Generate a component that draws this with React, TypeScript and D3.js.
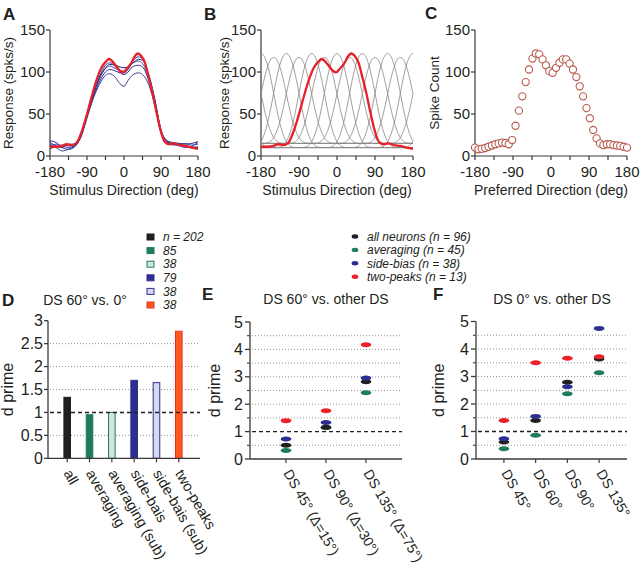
import React from "react";
import * as d3 from "d3";

// ---------------- data ----------------
// Panel A/B: red population response
const redDirs = [-180, -165, -150, -140, -127, -115, -103, -91, -79, -67, -55, -43, -37, -31, -22, -10, -2, 6, 18, 26, 34, 42, 51, 59, 69, 79, 90, 99, 110, 122, 135, 150, 165, 180];
const redResp = [11, 11, 12, 14, 13, 16, 29, 48, 70, 90, 105, 113, 115.5, 114, 109, 101.5, 99.5, 103.5, 111, 118.5, 122, 119, 111, 96, 76, 52, 29, 17, 14, 15, 13, 12, 10, 8.5];

// Panel A: blue individual responses
const blueDirs = [-180, -165, -150, -135, -120, -105, -90, -75, -60, -45, -35, -20, -10, 0, 10, 20, 35, 45, 60, 75, 90, 105, 120, 135, 150, 165, 180];
const blue1 = [14, 10, 6, 8, 12, 22, 45, 68, 85, 96, 98, 93, 86, 83, 90, 96, 99, 97, 85, 60, 28, 16, 14, 12, 10, 12, 16];
const blue2 = [18, 16, 10, 8, 11, 23, 47, 70, 88, 100, 103, 101, 99, 97, 100, 106, 108, 106, 90, 62, 27, 16, 15, 14, 12, 10, 11];
const blue3 = [12, 14, 12, 10, 13, 25, 49, 73, 92, 104, 107, 104, 102, 101, 104, 110, 113, 110, 94, 65, 30, 17, 13, 14, 15, 13, 14];
const blue4 = [9, 11, 13, 12, 12, 24, 48, 72, 92, 105, 109, 108, 106, 105, 106, 110, 115, 114, 96, 66, 30, 18, 16, 15, 14, 15, 17];
const blue5 = [16, 12, 10, 14, 14, 26, 50, 74, 94, 108, 111, 106, 100, 99, 103, 112, 118, 116, 97, 68, 31, 18, 14, 13, 12, 11, 10];
const blueSeries = [blue1, blue2, blue3, blue4, blue5];
const blueColors = ["#3b3f9a", "#2a2e8c", "#4a4fa8", "#23287f", "#3035a0"];

// Panel B: tuning curves (response vs. |offset| from preferred direction, 0..180 by 10)
const tuneHigh = [124, 118, 101, 75, 48, 28, 16, 11, 10, 10, 10, 10, 10, 10, 10, 10, 10, 10, 10];
const tuneLow = [119, 114, 98, 74, 50, 32, 21, 16, 15, 15, 15, 15, 15, 15, 15, 15, 15, 15, 15];
const prefsB = [-180, -150, -120, -90, -60, -30, 0, 30, 60, 90, 120, 150];

// Panel C: spike count vs preferred direction
const prefDirsC = [-180, -172, -164, -156, -148, -140, -132, -124, -116, -108, -100, -92, -84, -76, -68, -60, -52, -44, -36, -28, -20, -12, -4, 4, 12, 20, 28, 36, 44, 52, 60, 68, 76, 84, 92, 100, 108, 116, 124, 132, 140, 148, 156, 164, 172, 180];
const spikeCounts = [10, 8, 8.5, 9.5, 11, 12.5, 14, 15, 16, 15.5, 14, 19, 36, 54, 71, 88, 103, 116, 122, 121, 115, 108, 101, 99, 105, 111, 115, 115, 110, 103, 94, 83, 71, 57, 45, 31, 21, 15, 13, 14, 14, 13, 12.5, 12, 11, 10];

const topYTicks = [0, 50, 100, 150];
const topXTicks = [-180, -90, 0, 90, 180];
const topXMinor = [-135, -45, 45, 135];

// Panel D
const dCats = ["all", "averaging", "averaging (sub)", "side-bais", "side-bais (sub)", "two-peaks"];
const dVals = [1.33, 0.95, 1.0, 1.7, 1.65, 2.77];
const dFill = ["#231f20", "#1e7b5c", "#d3e4db", "#2c2e90", "#d8d9ee", "#ff5a1c"];
const dStroke = ["#231f20", "#1e7b5c", "#1e7b5c", "#2c2e90", "#2c2e90", "#ec2a2a"];
const dLegend = ["n = 202", "85", "38", "79", "38", "38"];
const dTicks = [0, 0.5, 1, 1.5, 2, 2.5, 3];

// Panels E & F
const seriesNames = ["all neurons (n = 96)", "averaging (n = 45)", "side-bias (n = 38)", "two-peaks (n = 13)"];
const seriesColors = ["#231f20", "#1e7b5c", "#2c2e90", "#ec2227"];
const eCats = ["DS 45° (Δ=15°)", "DS 90° (Δ=30°)", "DS 135° (Δ=75°)"];
const eAll = [0.5, 1.16, 2.82];
const eAvg = [0.31, 1.14, 2.42];
const eSide = [0.73, 1.33, 2.96];
const eTwo = [1.4, 1.76, 4.17];
const fCats = ["DS 45°", "DS 60°", "DS 90°", "DS 135°"];
const fAll = [0.62, 1.4, 2.79, 3.64];
const fAvg = [0.37, 0.86, 2.37, 3.14];
const fSide = [0.74, 1.55, 2.63, 4.75];
const fTwo = [1.4, 3.5, 3.66, 3.72];
const efTicks = [0, 1, 2, 3, 4, 5];
const efMinor = [0.5, 1.5, 2.5, 3.5, 4.5];
const efGrid = [0.5, 1.5, 2, 2.5, 3, 3.5, 4, 4.5];
const dGrid = [0.5, 1.5, 2, 2.5];

// ---------------- styles ----------------
const FONT = "'Liberation Sans', Arial, Helvetica, sans-serif";
const TXT = "#231f20";
const AX = "#3a3a3a";

const yTop = d3.scaleLinear().domain([0, 150]).range([156, 30]);
const xA = d3.scaleLinear().domain([-180, 180]).range([50, 198]);
const xB = d3.scaleLinear().domain([-180, 180]).range([261, 413]);
const xC = d3.scaleLinear().domain([-180, 180]).range([475, 627]);

function TopFrame({ x, xTitle, yTitle, yTitleX }: { x: d3.ScaleLinear<number, number>; xTitle: string; yTitle: string; yTitleX: number }) {
  const [x0, x1] = x.range();
  const y0 = yTop(0), y1 = yTop(150);
  return (
    <g>
      <line x1={x0} x2={x0} y1={y0} y2={y1} stroke={AX} strokeWidth={1.2} />
      <line x1={x0} x2={x1} y1={y0} y2={y0} stroke={AX} strokeWidth={1.2} />
      {topYTicks.map((t) => (
        <g key={"y" + t}>
          <line x1={x0 - 4} x2={x0} y1={yTop(t)} y2={yTop(t)} stroke={AX} strokeWidth={1.2} />
          <text x={x0 - 5} y={yTop(t)} dy="0.35em" textAnchor="end" fontSize={15} fill={TXT}>{t}</text>
        </g>
      ))}
      {topXTicks.concat(topXMinor).map((t) => (
        <line key={"x" + t} x1={x(t)} x2={x(t)} y1={y0} y2={y0 + 4} stroke={AX} strokeWidth={1.2} />
      ))}
      {topXTicks.map((t) => (
        <text key={"xl" + t} x={x(t)} y={177} textAnchor="middle" fontSize={15} fill={TXT}>{t}</text>
      ))}
      <text x={(x0 + x1) / 2} y={195} textAnchor="middle" fontSize={14} fill={TXT}>{xTitle}</text>
      <text transform={`translate(${yTitleX},${(y0 + y1) / 2}) rotate(-90)`} textAnchor="middle" fontSize={13.5} fill={TXT}>{yTitle}</text>
    </g>
  );
}

function pairs(xs: number[], ys: number[]): [number, number][] {
  return xs.map((d, i) => [d, ys[i]] as [number, number]);
}

function lineFor(x: d3.ScaleLinear<number, number>) {
  return d3.line<[number, number]>().x((d) => x(d[0])).y((d) => yTop(d[1])).curve(d3.curveMonotoneX);
}

// tuning curve shape from data (mirrored, smooth B-spline through the read nodes)
function tuneInterp(vals: number[]) {
  const mirrored = vals.slice(1).reverse().concat(vals);
  const f = d3.interpolateBasis(mirrored);
  const dom = d3.scaleLinear().domain([-180, 180]).range([0, 1]);
  return (off: number) => f(dom(off));
}

function DotPanel({ x, cats, series, yScale, axisX, axisEnd }: any) {
  const y0 = yScale(0);
  return (
    <g>
      {efGrid.map((g) => (
        <line key={"g" + g} x1={axisX + 2} x2={axisEnd} y1={yScale(g)} y2={yScale(g)} stroke="#8a8a8a" strokeWidth={0.9} strokeDasharray="1 2" />
      ))}
      <line x1={axisX + 2} x2={axisEnd} y1={yScale(1)} y2={yScale(1)} stroke={TXT} strokeWidth={1.4} strokeDasharray="4 3" />
      <line x1={axisX} x2={axisX} y1={y0} y2={yScale(5)} stroke={AX} strokeWidth={1.3} />
      <line x1={axisX} x2={axisEnd} y1={y0} y2={y0} stroke={AX} strokeWidth={1.3} />
      {efTicks.map((t) => (
        <g key={"t" + t}>
          <line x1={axisX - 5} x2={axisX} y1={yScale(t)} y2={yScale(t)} stroke={AX} strokeWidth={1.3} />
          <text x={axisX - 7} y={yScale(t)} dy="0.35em" textAnchor="end" fontSize={16} fill={TXT}>{t}</text>
        </g>
      ))}
      {efMinor.map((t) => (
        <line key={"m" + t} x1={axisX - 3} x2={axisX} y1={yScale(t)} y2={yScale(t)} stroke={AX} strokeWidth={1.1} />
      ))}
      {cats.map((c: string) => (
        <g key={c}>
          <line x1={x(c)} x2={x(c)} y1={y0} y2={y0 + 4} stroke={AX} strokeWidth={1.2} />
          <text transform={`translate(${x(c) - 3},${y0 + 14}) rotate(60)`} fontSize={14} fill={TXT}>{c}</text>
        </g>
      ))}
      {[1, 0, 2, 3].map((si) =>
        series[si].map((v: number, i: number) => (
          <ellipse key={si + "-" + i} cx={x(cats[i])} cy={yScale(v)} rx={5.3} ry={2.5} fill={seriesColors[si]} />
        ))
      )}
    </g>
  );
}

export default function App() {
  const lineA = lineFor(xA);
  const lineB = lineFor(xB);
  const interpHigh = tuneInterp(tuneHigh);
  const interpLow = tuneInterp(tuneLow);
  const sampleDirs = d3.range(-180, 181, 2);

  const yD = d3.scaleLinear().domain([0, 3]).range([458.3, 320.7]);
  const xD = d3.scaleBand<string>().domain(dCats).range([46, 200]).paddingInner(0.66).paddingOuter(0.78);
  const yE = d3.scaleLinear().domain([0, 5]).range([459, 322]);
  const xE = d3.scalePoint<string>().domain(eCats).range([250, 402]).padding(0.9);
  const yF = d3.scaleLinear().domain([0, 5]).range([459, 321.5]);
  const xF = d3.scalePoint<string>().domain(fCats).range([476, 627]).padding(0.88);

  return (
    <svg width={640} height={565} style={{ position: "absolute", left: 0, top: 0, background: "#fff" }} fontFamily={FONT}>
      <g fontWeight="bold" fontSize={17} fill={TXT}>
        <text x={3} y={20}>A</text>
        <text x={204} y={20}>B</text>
        <text x={425} y={19}>C</text>
        <text x={2} y={306}>D</text>
        <text x={202} y={300}>E</text>
        <text x={433} y={300}>F</text>
      </g>

      {/* Panel A */}
      <TopFrame x={xA} xTitle="Stimulus Direction (deg)" yTitle="Response (spks/s)" yTitleX={13} />
      {blueSeries.map((s, i) => (
        <path key={"b" + i} d={lineA(pairs(blueDirs, s)) || ""} fill="none" stroke={blueColors[i]} strokeWidth={1} />
      ))}
      <path d={lineA(pairs(redDirs, redResp)) || ""} fill="none" stroke="#e8202a" strokeWidth={2.3} />

      {/* Panel B */}
      <TopFrame x={xB} xTitle="Stimulus Direction (deg)" yTitle="Response (spks/s)" yTitleX={229} />
      {prefsB.map((p, i) => {
        const f = i % 2 === 0 ? interpHigh : interpLow;
        const pts = sampleDirs.map((d) => {
          const off = (((d - p) % 360) + 540) % 360 - 180;
          return [d, f(off)] as [number, number];
        });
        return <path key={"t" + p} d={lineB(pts) || ""} fill="none" stroke="#878787" strokeWidth={0.8} />;
      })}
      <path d={lineB(pairs(redDirs, redResp)) || ""} fill="none" stroke="#e8202a" strokeWidth={2.3} />

      {/* Panel C */}
      <TopFrame x={xC} xTitle="Preferred Direction (deg)" yTitle="Spike Count" yTitleX={439} />
      {prefDirsC.map((d, i) => (
        <circle key={"c" + i} cx={xC(d)} cy={yTop(spikeCounts[i])} r={3.6} fill="#fff" stroke="#b85a4c" strokeWidth={1.1} />
      ))}

      {/* Panel D */}
      <text x={85} y={305} textAnchor="middle" fontSize={14} fill={TXT}>DS 60° vs. 0°</text>
      {dLegend.map((l, i) => (
        <g key={"dl" + i}>
          <rect x={147} y={234 + i * 13.6} width={7} height={6} fill={dFill[i]} stroke={dStroke[i]} strokeWidth={1} />
          <text x={163} y={237 + i * 13.6} dy="0.35em" fontSize={12} fontStyle="italic" fill={TXT}>{l}</text>
        </g>
      ))}
      {dGrid.map((g) => (
        <line key={"dg" + g} x1={50} x2={200} y1={yD(g)} y2={yD(g)} stroke="#8a8a8a" strokeWidth={0.9} strokeDasharray="1 2" />
      ))}
      {dCats.map((c, i) => (
        <rect key={"bar" + c} x={xD(c)! + 0.5} y={yD(dVals[i])} width={xD.bandwidth() - 1} height={yD(0) - yD(dVals[i])} fill={dFill[i]} stroke={dStroke[i]} strokeWidth={1} />
      ))}
      <line x1={50} x2={200} y1={yD(1)} y2={yD(1)} stroke={TXT} strokeWidth={1.4} strokeDasharray="4 3" />
      <line x1={48} x2={48} y1={yD(0)} y2={yD(3)} stroke={AX} strokeWidth={1.3} />
      <line x1={48} x2={200} y1={yD(0)} y2={yD(0)} stroke={AX} strokeWidth={1.3} />
      {dTicks.map((t) => (
        <g key={"dt" + t}>
          <line x1={44} x2={48} y1={yD(t)} y2={yD(t)} stroke={AX} strokeWidth={1.3} />
          <text x={43} y={yD(t)} dy="0.35em" textAnchor="end" fontSize={16} fill={TXT}>{t}</text>
        </g>
      ))}
      {dCats.map((c) => {
        const cx = xD(c)! + xD.bandwidth() / 2;
        return (
          <g key={"dx" + c}>
            <line x1={cx} x2={cx} y1={yD(0)} y2={yD(0) + 4} stroke={AX} strokeWidth={1.2} />
            <text transform={`translate(${cx - 4},${yD(0) + 15}) rotate(60)`} fontSize={14.5} fill={TXT}>{c}</text>
          </g>
        );
      })}
      <text transform={`translate(13,${(yD(0) + yD(3)) / 2}) rotate(-90)`} textAnchor="middle" fontSize={16} fill={TXT}>d prime</text>

      {/* shared legend for E & F */}
      {seriesNames.map((n, i) => (
        <g key={"sl" + i}>
          <ellipse cx={355} cy={236.5 + i * 13.4} rx={3.3} ry={2.2} fill={seriesColors[i]} />
          <text x={367} y={236.5 + i * 13.4} dy="0.35em" fontSize={12} fontStyle="italic" fill={TXT}>{n}</text>
        </g>
      ))}

      {/* Panel E */}
      <text x={326} y={304} textAnchor="middle" fontSize={14} fill={TXT}>DS 60° vs. other DS</text>
      <DotPanel x={xE} cats={eCats} series={[eAll, eAvg, eSide, eTwo]} yScale={yE} axisX={250} axisEnd={402} />
      <text transform={`translate(220,${(yE(0) + yE(5)) / 2}) rotate(-90)`} textAnchor="middle" fontSize={16} fill={TXT}>d prime</text>

      {/* Panel F */}
      <text x={552} y={304} textAnchor="middle" fontSize={14} fill={TXT}>DS 0° vs. other DS</text>
      <DotPanel x={xF} cats={fCats} series={[fAll, fAvg, fSide, fTwo]} yScale={yF} axisX={476} axisEnd={627} />
      <text transform={`translate(444,${(yF(0) + yF(5)) / 2}) rotate(-90)`} textAnchor="middle" fontSize={16} fill={TXT}>d prime</text>
    </svg>
  );
}
